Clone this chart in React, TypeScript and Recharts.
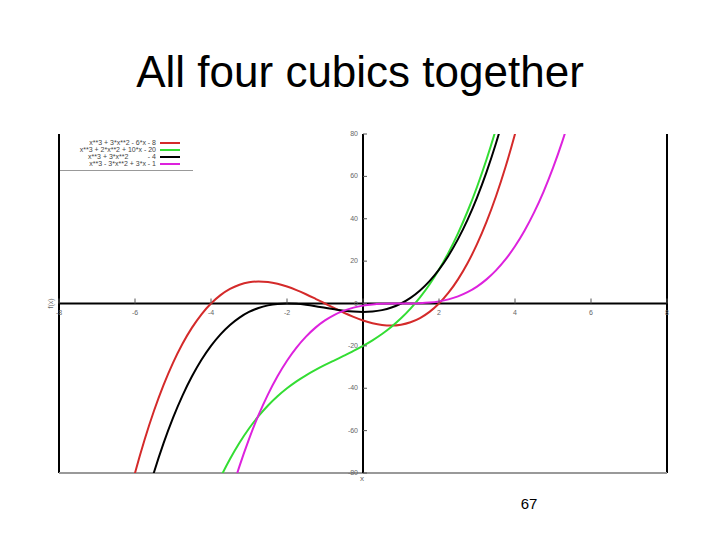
import React from 'react';
import { LineChart, Line, XAxis, YAxis, ReferenceLine, ReferenceDot, Legend } from 'recharts';

const xValues = [
  -6.5, -6.25, -6, -5.75, -5.5, -5.25, -5, -4.75, -4.5, -4.25,
  -4, -3.75, -3.5, -3.25, -3, -2.75, -2.5, -2.25, -2, -1.75,
  -1.5, -1.25, -1, -0.75, -0.5, -0.25, 0, 0.25, 0.5, 0.75,
  1, 1.25, 1.5, 1.75, 2, 2.25, 2.5, 2.75, 3, 3.25,
  3.5, 3.75, 4, 4.25, 4.5, 4.75, 5, 5.25, 5.5,
];

// x**3 + 3*x**2 - 6*x - 8
const redValues = [
  -116.88, -97.45, -80, -64.42, -50.63, -38.52, -28, -18.98, -11.38, -5.08,
  0, 3.95, 6.88, 8.86, 10, 10.39, 10.13, 9.3, 8, 6.33,
  4.38, 2.23, 0, -2.23, -4.38, -6.33, -8, -9.3, -10.13, -10.39,
  -10, -8.86, -6.88, -3.95, 0, 5.08, 11.38, 18.98, 28, 38.52,
  50.63, 64.42, 80, 97.45, 116.88, null, null, null, null,
];

// x**3 + 2*x**2 + 10*x - 20
const greenValues = [
  null, null, null, null, null, null, null, null, null, null,
  -92, -82.11, -73.38, -65.7, -59, -53.17, -48.13, -43.77, -40, -36.73,
  -33.88, -31.33, -29, -26.8, -24.63, -22.39, -20, -17.36, -14.38, -10.95,
  -7, -2.42, 2.88, 8.98, 16, 24.02, 33.13, 43.42, 55, 67.95,
  82.38, 98.36, null, null, null, null, null, null, null,
];

// x**3 + 3*x**2 - 4
const blackValues = [
  null, null, -112, -94.92, -79.63, -66.02, -54, -43.48, -34.38, -26.58,
  -20, -14.55, -10.13, -6.64, -4, -2.11, -0.88, -0.2, 0, -0.17,
  -0.63, -1.27, -2, -2.73, -3.38, -3.83, -4, -3.8, -3.13, -1.89,
  0, 2.64, 6.13, 10.55, 16, 22.58, 30.38, 39.48, 50, 62.02,
  75.63, 90.92, null, null, null, null, null, null, null,
];

// x**3 - 3*x**2 + 3*x - 1
const magentaValues = [
  null, null, null, null, null, null, null, null, null, null,
  null, null, -91.13, -76.77, -64, -52.73, -42.88, -34.33, -27, -20.8,
  -15.63, -11.39, -8, -5.36, -3.38, -1.95, -1, -0.42, -0.13, -0.02,
  0, 0.02, 0.13, 0.42, 1, 1.95, 3.38, 5.36, 8, 11.39,
  15.63, 20.8, 27, 34.33, 42.88, 52.73, 64, 76.77, 91.13,
];

const seriesKeys = ['red', 'green', 'black', 'magenta'];
const seriesNames = [
  'x**3 + 3*x**2 - 6*x - 8',
  'x**3 + 2*x**2 + 10*x - 20',
  'x**3 + 3*x**2          - 4',
  'x**3 - 3*x**2 + 3*x - 1',
];
const seriesColors = ['#d42a2a', '#33dd33', '#000000', '#dd22dd'];

const xTicks = [-8, -6, -4, -2, 0, 2, 4, 6, 8];
const yTicks = [80, 60, 40, 20, 0, -20, -40, -60, -80];

const tableData = xValues.map((x, i) => ({
  x,
  red: redValues[i],
  green: greenValues[i],
  black: blackValues[i],
  magenta: magentaValues[i],
}));

const FONT = '"Liberation Sans", Arial, sans-serif';

const LegendBox = () => (
  <div
    style={{
      width: 133,
      height: 38,
      boxSizing: 'border-box',
      borderBottom: '1px solid #999',
      paddingTop: 6,
      fontFamily: FONT,
    }}
  >
    {seriesNames.map((name, i) => (
      <div
        key={name}
        style={{ display: 'flex', justifyContent: 'flex-end', alignItems: 'center', height: 7, paddingRight: 13 }}
      >
        <span style={{ fontSize: 7, lineHeight: '7px', color: '#444', whiteSpace: 'pre' }}>{name}</span>
        <span style={{ display: 'inline-block', width: 20, height: 2, background: seriesColors[i], marginLeft: 4 }} />
      </div>
    ))}
  </div>
);

const xTickShape = (label: number) => (props: any) => {
  const { cx, cy } = props;
  return (
    <g>
      <line x1={cx} y1={cy - 5} x2={cx} y2={cy} stroke="#555" strokeWidth={1} />
      {label !== 0 && (
        <text x={cx} y={cy + 11} textAnchor="middle" fontSize={7} fill="#666" fontFamily={FONT}>
          {label}
        </text>
      )}
    </g>
  );
};

const yTickShape = (label: number) => (props: any) => {
  const { cx, cy } = props;
  return (
    <g>
      <line x1={cx} y1={cy} x2={cx + 4} y2={cy} stroke="#555" strokeWidth={1} />
      <text x={cx - 5} y={cy + 2} textAnchor="end" fontSize={7} fill="#666" fontFamily={FONT}>
        {label}
      </text>
    </g>
  );
};

export default function App() {
  return (
    <div style={{ position: 'absolute', left: 0, top: 0, width: 720, height: 540, background: '#fff' }}>
      <div
        style={{
          position: 'absolute',
          left: 0,
          top: 50,
          width: 720,
          textAlign: 'center',
          fontFamily: FONT,
          fontSize: 44,
          lineHeight: '44px',
          color: '#000',
        }}
      >
        All four cubics together
      </div>
      <LineChart
        width={720}
        height={540}
        data={tableData}
        margin={{ top: 134, right: 53, bottom: 67, left: 59 }}
      >
        <XAxis dataKey="x" type="number" domain={[-8, 8]} allowDataOverflow hide />
        <YAxis type="number" domain={[-80, 80]} allowDataOverflow hide />
        <ReferenceLine x={-8} stroke="#000" strokeWidth={2} />
        <ReferenceLine x={8} stroke="#000" strokeWidth={2} />
        <ReferenceLine y={-80} stroke="#999" strokeWidth={2} />
        <ReferenceLine y={0} stroke="#000" strokeWidth={2} />
        <ReferenceLine x={0} stroke="#000" strokeWidth={2} />
        {xTicks.map((t) => (
          <ReferenceDot key={'xt' + t} x={t} y={0} r={0} shape={xTickShape(t)} />
        ))}
        {yTicks.map((t) => (
          <ReferenceDot key={'yt' + t} x={0} y={t} r={0} shape={yTickShape(t)} />
        ))}
        {seriesKeys.map((k, i) => (
          <Line
            key={k}
            dataKey={k}
            name={seriesNames[i]}
            type="monotone"
            stroke={seriesColors[i]}
            strokeWidth={2}
            dot={false}
            activeDot={false}
            isAnimationActive={false}
          />
        ))}
        <Legend
          layout="horizontal"
          verticalAlign="middle"
          align="center"
          wrapperStyle={{ position: 'absolute', left: 60, top: 133, width: 133, height: 38 }}
          content={() => <LegendBox />}
        />
      </LineChart>
      <div
        style={{
          position: 'absolute',
          left: 45,
          top: 300,
          fontFamily: FONT,
          fontSize: 7,
          color: '#666',
          transform: 'rotate(-90deg)',
          transformOrigin: 'center',
        }}
      >
        f(x)
      </div>
      <div
        style={{ position: 'absolute', left: 360, top: 474, fontFamily: FONT, fontSize: 8, color: '#666' }}
      >
        x
      </div>
      <div
        style={{
          position: 'absolute',
          left: 509,
          top: 496,
          width: 40,
          textAlign: 'center',
          fontFamily: FONT,
          fontSize: 15,
          lineHeight: '15px',
          color: '#000',
        }}
      >
        67
      </div>
    </div>
  );
}
